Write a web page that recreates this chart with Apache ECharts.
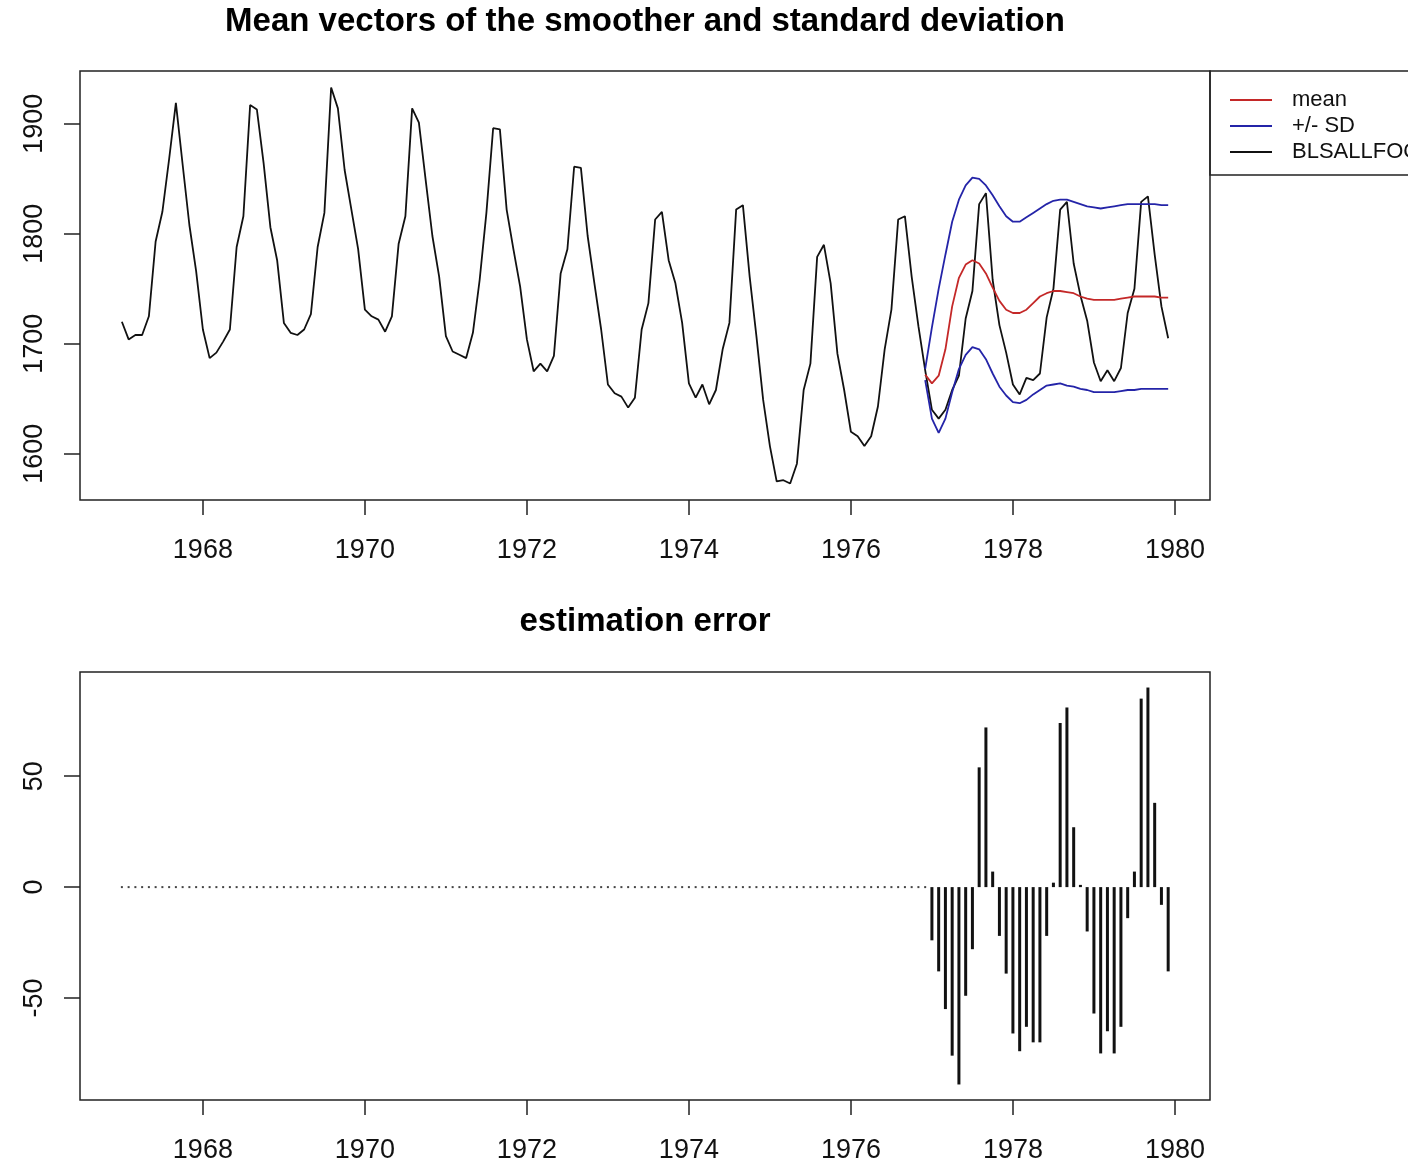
<!DOCTYPE html>
<html>
<head>
<meta charset="utf-8">
<title>Mean vectors of the smoother and standard deviation</title>
<script src="https://cdn.jsdelivr.net/npm/echarts@6/dist/echarts.min.js"></script>
<style>
  html, body { margin: 0; padding: 0; background: #fff; }
  #main { width: 1408px; height: 1165px; }
</style>
</head>
<body>
<div id="main"></div>
<script>
// monthly series, first value = Jan 1967
var startYear = 1967;

// BLSALLFOOD, one row per year
var food = [
  1720, 1704, 1708, 1708, 1725, 1793, 1820, 1868, 1919, 1863, 1808, 1766,
  1713, 1687, 1692, 1702, 1713, 1788, 1816, 1917, 1913, 1864, 1806, 1776,
  1719, 1710, 1708, 1713, 1727, 1788, 1819, 1933, 1914, 1858, 1822, 1786,
  1731, 1725, 1722, 1711, 1725, 1791, 1816, 1914, 1901, 1849, 1798, 1761,
  1707, 1693, 1690, 1687, 1710, 1758, 1819, 1896, 1895, 1822, 1786, 1752,
  1704, 1675, 1682, 1675, 1689, 1764, 1786, 1861, 1860, 1798, 1755, 1713,
  1663, 1655, 1652, 1642, 1651, 1713, 1737, 1813, 1820, 1776, 1755, 1719,
  1664, 1651, 1663, 1645, 1658, 1695, 1719, 1822, 1826, 1761, 1707, 1649,
  1607, 1575, 1576, 1573, 1591, 1658, 1682, 1779, 1790, 1755, 1691, 1658,
  1620, 1616, 1607, 1616, 1643, 1695, 1731, 1813, 1816, 1761, 1716, 1676,
  1640, 1632, 1640, 1658, 1671, 1723, 1748, 1827, 1837, 1758, 1717, 1692,
  1663, 1654, 1669, 1667, 1673, 1724, 1750, 1822, 1829, 1773, 1744, 1721,
  1683, 1666, 1676, 1666, 1678, 1728, 1750, 1829, 1834, 1781, 1734, 1705
];

// smoother output starts at Dec 1976 (month index 119)
var smoothStart = 119;
var smoothMean = [
  1672, 1664, 1671, 1695, 1734, 1760, 1772, 1776, 1773, 1764, 1751, 1739, 1731,
  1728, 1728, 1731, 1737, 1743, 1746, 1748, 1748, 1747, 1746, 1743, 1741,
  1740, 1740, 1740, 1740, 1741, 1742, 1743, 1743, 1743, 1743, 1742, 1742
];
var sdUpper = [
  1677, 1715, 1750, 1781, 1811, 1831, 1844, 1851, 1850, 1844, 1835, 1825, 1816,
  1811, 1811, 1815, 1819, 1823, 1827, 1830, 1831, 1831, 1829, 1827, 1825,
  1824, 1823, 1824, 1825, 1826, 1827, 1827, 1827, 1827, 1827, 1826, 1826
];
var sdLower = [
  1667, 1632, 1619, 1632, 1656, 1677, 1690, 1697, 1695, 1686, 1673, 1661, 1653,
  1647, 1646, 1649, 1654, 1658, 1662, 1663, 1664, 1662, 1661, 1659, 1658,
  1656, 1656, 1656, 1656, 1657, 1658, 1658, 1659, 1659, 1659, 1659, 1659
];

// estimation error, one row per year
var estError = [
  0, 0, 0, 0, 0, 0, 0, 0, 0, 0, 0, 0,
  0, 0, 0, 0, 0, 0, 0, 0, 0, 0, 0, 0,
  0, 0, 0, 0, 0, 0, 0, 0, 0, 0, 0, 0,
  0, 0, 0, 0, 0, 0, 0, 0, 0, 0, 0, 0,
  0, 0, 0, 0, 0, 0, 0, 0, 0, 0, 0, 0,
  0, 0, 0, 0, 0, 0, 0, 0, 0, 0, 0, 0,
  0, 0, 0, 0, 0, 0, 0, 0, 0, 0, 0, 0,
  0, 0, 0, 0, 0, 0, 0, 0, 0, 0, 0, 0,
  0, 0, 0, 0, 0, 0, 0, 0, 0, 0, 0, 0,
  0, 0, 0, 0, 0, 0, 0, 0, 0, 0, 0, 0,
  -24, -38, -55, -76, -89, -49, -28, 54, 72, 7, -22, -39,
  -66, -74, -63, -70, -70, -22, 2, 74, 81, 27, 1, -20,
  -57, -75, -65, -75, -63, -14, 7, 85, 90, 38, -8, -38
];

var yearTicks = [1968, 1970, 1972, 1974, 1976, 1978, 1980];
var foodTicks = [1600, 1700, 1800, 1900];
var errorTicks = [-50, 0, 50];

var FONT = 'Liberation Sans, Arial, sans-serif';

function monthTime(i) {
  return startYear + i / 12;
}
function toPairs(values, offset) {
  return values.map(function (v, k) { return [monthTime(offset + k), v]; });
}
function plainNumber(v) {
  return String(v);
}

function xAxisFor(gridIndex) {
  return {
    type: 'value',
    gridIndex: gridIndex,
    min: 1966.483,
    max: 1980.433,
    axisLine: { show: false, onZero: false },
    axisTick: { show: true, length: 15, customValues: yearTicks, lineStyle: { color: '#222', width: 1.5 } },
    axisLabel: { customValues: yearTicks, formatter: plainNumber, margin: 37, fontSize: 27, color: '#111', fontFamily: FONT },
    splitLine: { show: false }
  };
}
function yAxisFor(gridIndex, min, max, ticks) {
  return {
    type: 'value',
    gridIndex: gridIndex,
    min: min,
    max: max,
    axisLine: { show: false, onZero: false },
    axisTick: { show: true, length: 16, customValues: ticks, lineStyle: { color: '#222', width: 1.5 } },
    axisLabel: { customValues: ticks, formatter: plainNumber, rotate: 90, margin: 32, fontSize: 27, color: '#111', fontFamily: FONT },
    splitLine: { show: false }
  };
}

var chart = echarts.init(document.getElementById('main'));

var option = {
  animation: false,
  backgroundColor: '#fff',
  grid: [
    { left: 80, top: 71, width: 1130, height: 429, show: true, borderColor: '#222', borderWidth: 1.5 },
    { left: 80, top: 672, width: 1130, height: 428, show: true, borderColor: '#222', borderWidth: 1.5 }
  ],
  xAxis: [xAxisFor(0), xAxisFor(1)],
  yAxis: [
    yAxisFor(0, 1558, 1948, foodTicks),
    yAxisFor(1, -96, 97, errorTicks)
  ],
  legend: {
    data: ['mean', '+/- SD', 'BLSALLFOOD'],
    orient: 'vertical',
    left: 1230,
    top: 89,
    padding: 0,
    icon: 'rect',
    itemWidth: 42,
    itemHeight: 2,
    itemGap: 4,
    selectedMode: false,
    textStyle: { fontSize: 22, color: '#111', fontFamily: FONT, padding: [0, 0, 0, 15] }
  },
  graphic: [
    {
      type: 'text', x: 645, y: 22,
      style: { text: 'Mean vectors of the smoother and standard deviation', align: 'center', verticalAlign: 'middle',
               fontSize: 33, fontWeight: 'bold', fontFamily: FONT, fill: '#000' }
    },
    {
      type: 'text', x: 645, y: 622,
      style: { text: 'estimation error', align: 'center', verticalAlign: 'middle',
               fontSize: 33, fontWeight: 'bold', fontFamily: FONT, fill: '#000' }
    },
    {
      type: 'rect', shape: { x: 1210, y: 71, width: 260, height: 104 },
      style: { fill: 'none', stroke: '#222', lineWidth: 1.5 }
    }
  ],
  series: [
    {
      name: 'BLSALLFOOD', type: 'line', xAxisIndex: 0, yAxisIndex: 0,
      data: toPairs(food, 0), showSymbol: false, symbol: 'none', silent: true,
      color: '#111', lineStyle: { color: '#111', width: 1.8 }, itemStyle: { color: '#111' }
    },
    {
      name: 'mean', type: 'line', xAxisIndex: 0, yAxisIndex: 0,
      data: toPairs(smoothMean, smoothStart), showSymbol: false, symbol: 'none', silent: true,
      color: '#c42828', lineStyle: { color: '#c42828', width: 1.8 }, itemStyle: { color: '#c42828' }
    },
    {
      name: '+/- SD', type: 'line', xAxisIndex: 0, yAxisIndex: 0,
      data: toPairs(sdUpper, smoothStart), showSymbol: false, symbol: 'none', silent: true,
      color: '#2424a8', lineStyle: { color: '#2424a8', width: 1.8 }, itemStyle: { color: '#2424a8' }
    },
    {
      name: '+/- SD', type: 'line', xAxisIndex: 0, yAxisIndex: 0,
      data: toPairs(sdLower, smoothStart), showSymbol: false, symbol: 'none', silent: true,
      color: '#2424a8', lineStyle: { color: '#2424a8', width: 1.8 }, itemStyle: { color: '#2424a8' }
    },
    {
      name: 'estimation error', type: 'custom', xAxisIndex: 1, yAxisIndex: 1,
      data: toPairs(estError, 0), encode: { x: 0, y: 1 }, silent: true,
      renderItem: function (params, api) {
        var x = api.value(0);
        var v = api.value(1);
        var base = api.coord([x, 0]);
        if (v === 0) {
          // R draws a zero-length spike as a dot
          return { type: 'rect', shape: { x: base[0] - 1, y: base[1] - 1, width: 2, height: 2 }, style: { fill: '#444' } };
        }
        var tip = api.coord([x, v]);
        return {
          type: 'line',
          shape: { x1: base[0], y1: base[1], x2: tip[0], y2: tip[1] },
          style: { stroke: '#111', lineWidth: 3 }
        };
      }
    }
  ]
};

chart.setOption(option);
</script>
</body>
</html>
